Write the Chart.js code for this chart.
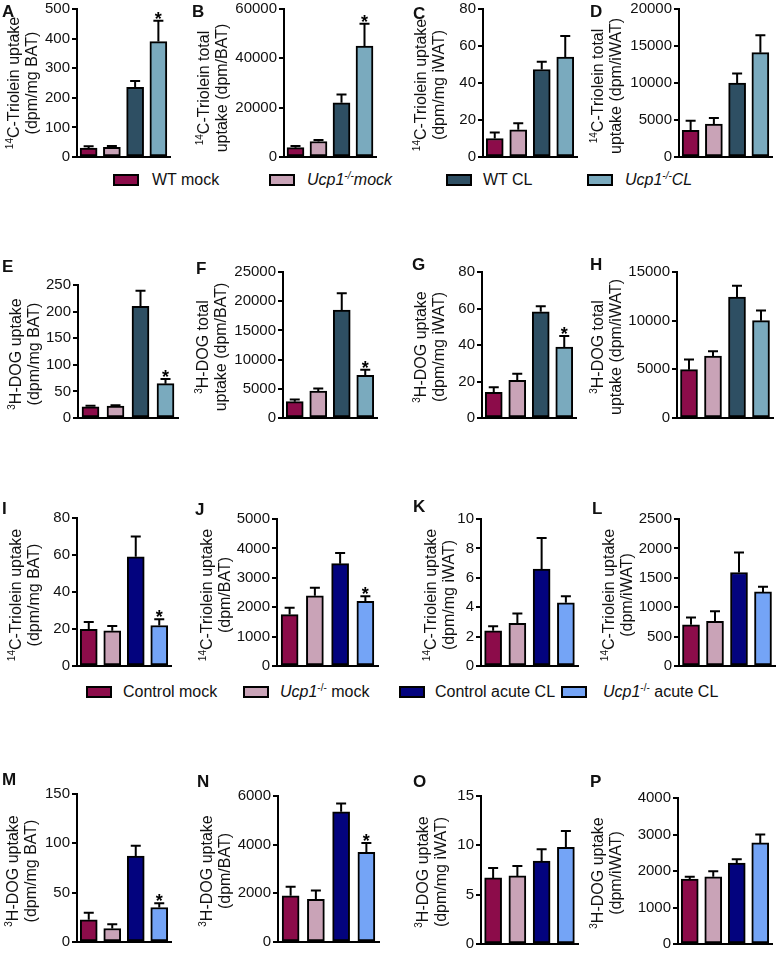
<!DOCTYPE html>
<html>
<head>
<meta charset="utf-8">
<script src="https://cdn.jsdelivr.net/npm/chart.js@4.4.1/dist/chart.umd.min.js"></script>
<style>
  html, body { margin: 0; padding: 0; background: #fff; }
  body { width: 776px; height: 956px; position: relative; overflow: hidden; font-family: 'Liberation Sans', Arial, sans-serif; color: #111; }
  canvas { position: absolute; }
  .letter { position: absolute; font-weight: bold; font-size: 17px; line-height: 17px; }
  .ytitle { position: absolute; transform: translate(-50%, -50%) rotate(-90deg); white-space: nowrap; text-align: center; font-size: 16px; line-height: 18px; }
  sup { font-size: 10px; line-height: 0; vertical-align: super; }
  .swatch { position: absolute; width: 26px; height: 12px; border: 2px solid #000; box-sizing: border-box; }
  .ltext { position: absolute; font-size: 16px; line-height: 16px; white-space: nowrap; }
</style>
</head>
<body>
<script>
// groups
const groupsTop = ['WT mock', 'Ucp1-/-mock', 'WT CL', 'Ucp1-/-CL'];
const groupsBottom = ['Control mock', 'Ucp1-/- mock', 'Control acute CL', 'Ucp1-/- acute CL'];
const colorsTop = ['#8c0c4a', '#c9a3b7', '#2e4f63', '#7aaabe'];
const colorsBottom = ['#8c0c4a', '#c9a3b7', '#03037e', '#74a4f6'];

// mean / SEM per panel (order: the four groups)
const aMean = [30, 33, 235, 390],        aSem = [6, 4, 22, 70];
const bMean = [3800, 6300, 22000, 45000], bSem = [700, 600, 3300, 9000];
const cMean = [10, 14.7, 47.3, 54],      cSem = [3.3, 3.5, 4.2, 11.4];
const dMean = [3600, 4450, 10000, 14100], dSem = [1300, 830, 1300, 2350];
const eMean = [21, 22.5, 210, 64.5],     eSem = [2, 1.5, 29, 9];
const fMean = [2800, 4600, 18500, 7300], fSem = [350, 430, 2850, 960];
const gMean = [14, 20.7, 58.2, 38.9],    gSem = [2.8, 3.5, 3, 6];
const hMean = [4970, 6370, 12420, 10000], hSem = [1040, 490, 1180, 1050];
const iMean = [19.8, 19, 59, 21.9],      iSem = [4, 2.6, 11, 3.4];
const jMean = [1750, 2390, 3480, 2200],  jSem = [230, 270, 360, 170];
const kMean = [2.4, 2.9, 6.6, 4.3],      kSem = [0.3, 0.67, 2.1, 0.44];
const lMean = [700, 760, 1590, 1260],    lSem = [126, 170, 340, 88];
const mMean = [22.5, 13.7, 87, 35],      mSem = [7.2, 4.3, 10.5, 4.2];
const nMean = [1900, 1750, 5350, 3680],  nSem = [370, 370, 345, 385];
const oMean = [6.7, 6.9, 8.4, 9.8],      oSem = [1, 1, 1.2, 1.65];
const pMean = [1780, 1840, 2220, 2770],  pSem = [60, 150, 100, 230];

// significance stars (group index marked)
const aStar = [0, 0, 0, 1], bStar = [0, 0, 0, 1], eStar = [0, 0, 0, 1], fStar = [0, 0, 0, 1];
const gStar = [0, 0, 0, 1], iStar = [0, 0, 0, 1], jStar = [0, 0, 0, 1], mStar = [0, 0, 0, 1];
const nStar = [0, 0, 0, 1], noStar = [0, 0, 0, 0];

// y axis ticks
const yMax  = [500, 60000, 80, 20000, 250, 25000, 80, 15000, 80, 5000, 10, 2500, 150, 6000, 15, 4000];
const yStep = [100, 20000, 20, 5000, 50, 5000, 20, 5000, 20, 1000, 2, 500, 50, 2000, 5, 1000];

const means = [aMean, bMean, cMean, dMean, eMean, fMean, gMean, hMean, iMean, jMean, kMean, lMean, mMean, nMean, oMean, pMean];
const sems  = [aSem, bSem, cSem, dSem, eSem, fSem, gSem, hSem, iSem, jSem, kSem, lSem, mSem, nSem, oSem, pSem];
const stars = [aStar, bStar, noStar, noStar, eStar, fStar, gStar, noStar, iStar, jStar, noStar, noStar, mStar, nStar, noStar, noStar];

const TRI = '<sup>14</sup>C-Triolein', DOG = '<sup>3</sup>H-DOG';
const titles = [
  TRI + ' uptake<br>(dpm/mg BAT)', TRI + ' total<br>uptake (dpm/BAT)',
  TRI + ' uptake<br>(dpm/mg iWAT)', TRI + ' total<br>uptake (dpm/iWAT)',
  DOG + ' uptake<br>(dpm/mg BAT)', DOG + ' total<br>uptake (dpm/BAT)',
  DOG + ' uptake<br>(dpm/mg iWAT)', DOG + ' total<br>uptake (dpm/iWAT)',
  TRI + ' uptake<br>(dpm/mg BAT)', TRI + ' uptake<br>(dpm/BAT)',
  TRI + ' uptake<br>(dpm/mg iWAT)', TRI + ' uptake<br>(dpm/iWAT)',
  DOG + ' uptake<br>(dpm/mg BAT)', DOG + ' uptake<br>(dpm/BAT)',
  DOG + ' uptake<br>(dpm/mg iWAT)', DOG + ' uptake<br>(dpm/iWAT)'
];
const letters = 'ABCDEFGHIJKLMNOP'.split('');

// layout: plot area [left, right, top, bottom], title centre, letter cap top-left
const layout = [
  { area: [77, 170, 9, 162],    title: [23, 83],   letter: [2, 5] },
  { area: [284, 376, 9, 162],   title: [213, 88],  letter: [192, 5] },
  { area: [483, 577, 9, 162],   title: [430, 85],  letter: [413, 7] },
  { area: [679, 772, 9, 162],   title: [607, 86],  letter: [590, 5] },
  { area: [78, 178, 285, 423],  title: [25, 354],  letter: [2, 260] },
  { area: [283, 377, 272, 423], title: [212, 347], letter: [196, 262] },
  { area: [482, 576, 272, 423], title: [430, 347], letter: [412, 258] },
  { area: [677, 773, 272, 423], title: [607, 347], letter: [590, 258] },
  { area: [77, 171, 518, 671],  title: [25, 595],  letter: [2, 502] },
  { area: [277, 378, 519, 671], title: [216, 595], letter: [195, 503] },
  { area: [481, 578, 519, 671], title: [440, 595], letter: [413, 500] },
  { area: [679, 775, 519, 671], title: [618, 595], letter: [592, 502] },
  { area: [77, 171, 794, 947],  title: [22, 871],  letter: [2, 773] },
  { area: [278, 379, 796, 947], title: [216, 871], letter: [197, 775] },
  { area: [481, 578, 796, 949], title: [432, 872], letter: [413, 775] },
  { area: [678, 772, 798, 949], title: [607, 873], letter: [590, 775] }
];

const errorBars = {
  id: 'errorBars',
  afterDatasetsDraw(chart, args, opts) {
    const { ctx } = chart;
    const y = chart.scales.y;
    const ds = chart.data.datasets[0].data;
    const meta = chart.getDatasetMeta(0);
    ctx.save();
    ctx.strokeStyle = '#000';
    ctx.fillStyle = '#000';
    ctx.lineWidth = 2;
    ctx.font = "bold 18px 'Liberation Sans', Arial, sans-serif";
    ctx.textAlign = 'center';
    meta.data.forEach((bar, i) => {
      const top = y.getPixelForValue(ds[i] + opts.sem[i]);
      ctx.beginPath();
      ctx.moveTo(bar.x, bar.y);
      ctx.lineTo(bar.x, top);
      ctx.moveTo(bar.x - 5, top);
      ctx.lineTo(bar.x + 5, top);
      ctx.stroke();
      if (opts.star[i]) ctx.fillText('*', bar.x, top + 4);
    });
    ctx.restore();
  }
};

function addDiv(cls, html, x, y) {
  const d = document.createElement('div');
  d.className = cls;
  d.innerHTML = html;
  d.style.left = x + 'px';
  d.style.top = y + 'px';
  document.body.appendChild(d);
  return d;
}

function makePanel(idx) {
  const L = layout[idx];
  const [x0, x1, y0, y1] = L.area;
  const padL = 60, padR = 6, padT = 14, padB = 6;
  const w = x1 - x0 + padL + padR, h = y1 - y0 + padT + padB;
  const cv = document.createElement('canvas');
  cv.width = w; cv.height = h;
  cv.style.left = (x0 - padL) + 'px';
  cv.style.top = (y0 - padT) + 'px';
  cv.style.width = w + 'px';
  cv.style.height = h + 'px';
  document.body.appendChild(cv);

  const bottomRow = idx >= 8;
  new Chart(cv, {
    type: 'bar',
    data: {
      labels: bottomRow ? groupsBottom : groupsTop,
      datasets: [{
        data: means[idx],
        backgroundColor: bottomRow ? colorsBottom : colorsTop,
        borderColor: '#000',
        borderWidth: 2,
        borderSkipped: false,
        barThickness: 17
      }]
    },
    options: {
      responsive: false,
      animation: false,
      devicePixelRatio: 1,
      layout: { padding: { left: 0, right: padR, top: padT, bottom: padB } },
      plugins: {
        legend: { display: false },
        tooltip: { enabled: false },
        errorBars: { sem: sems[idx], star: stars[idx] }
      },
      scales: {
        x: {
          grid: { display: false },
          ticks: { display: false },
          border: { color: '#000', width: 2 },
          afterFit: s => { s.height = 0; }
        },
        y: {
          min: 0,
          max: yMax[idx],
          ticks: {
            stepSize: yStep[idx],
            color: '#111',
            padding: 2,
            font: { family: "'Liberation Sans', Arial, sans-serif", size: 15 },
            callback: v => String(v)
          },
          grid: { drawOnChartArea: false, drawTicks: true, tickLength: 5, color: '#000', lineWidth: 2 },
          border: { color: '#000', width: 2 },
          afterFit: s => { s.width = padL; }
        }
      }
    },
    plugins: [errorBars]
  });

  addDiv('ytitle', titles[idx], L.title[0], L.title[1]);
  addDiv('letter', letters[idx], L.letter[0], L.letter[1] - 2);
}

for (let i = 0; i < 16; i++) makePanel(i);

// legends
function fmt(label, italicAll) {
  if (!label.startsWith('Ucp1-/-')) return label;
  const rest = label.slice(7);
  if (italicAll) return '<i>Ucp1<sup>-/-</sup>' + rest + '</i>';
  return '<i>Ucp1</i><sup>-/-</sup>' + rest;
}
const legendTop = { y: 180, swatch: [113, 269, 446, 587], text: [152, 307, 483, 625] };
const legendBottom = { y: 692, swatch: [86, 243, 399, 561], text: [123, 280, 435, 603] };

function makeLegend(L, groups, colors, italicAll) {
  groups.forEach((g, i) => {
    const s = addDiv('swatch', '', L.swatch[i], L.y - 6);
    s.style.background = colors[i];
    addDiv('ltext', fmt(g, italicAll), L.text[i], L.y - 8);
  });
}
makeLegend(legendTop, groupsTop, colorsTop, true);
makeLegend(legendBottom, groupsBottom, colorsBottom, false);
</script>
</body>
</html>
